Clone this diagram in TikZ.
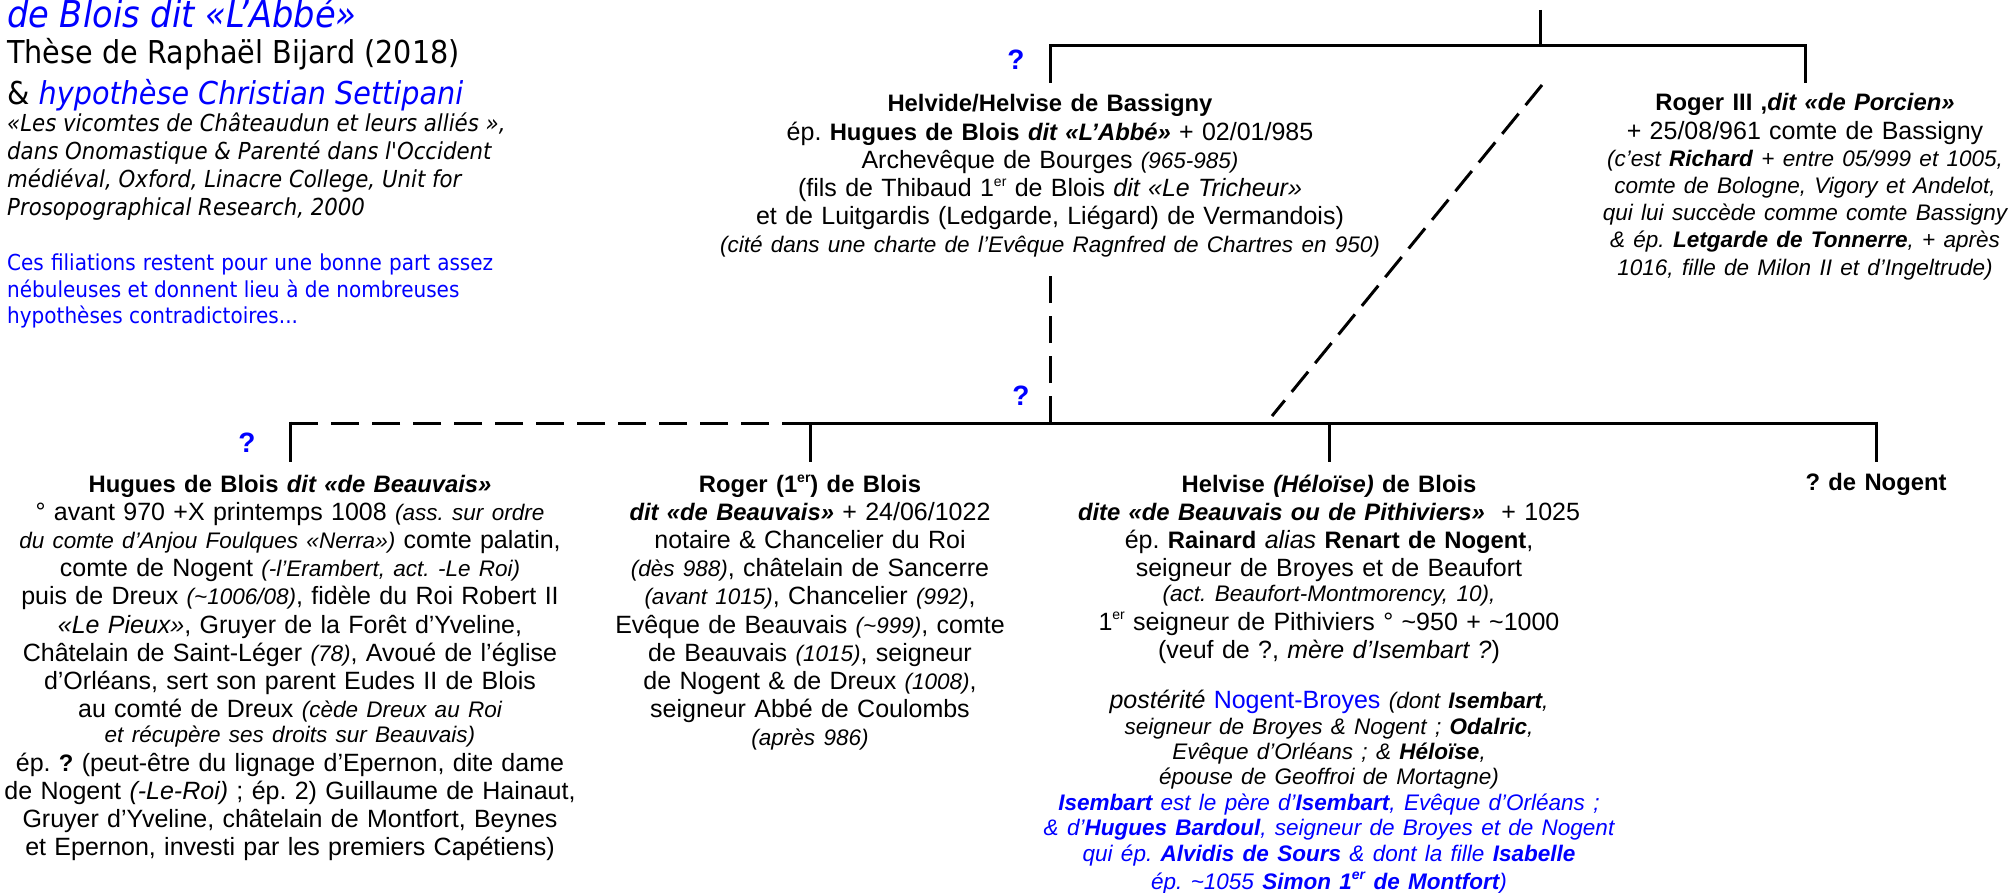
\documentclass[tikz,border=0pt]{standalone}
\usepackage{fontspec}
\setmainfont{Liberation Sans}
\newfontfamily\tah{DejaVu Sans}[FakeStretch=0.91]
\definecolor{qblue}{RGB}{0,0,255}
\newcommand\rsz{\fontsize{25}{28.2}\selectfont}
\newcommand\ssz{\fontsize{22.5}{25.2}\selectfont}
\newcommand\LR{\par\normalfont\rsz}
\newcommand\LS{\par\normalfont\ssz\itshape}
\newcommand\LSw{\par\normalfont\fontsize{22.5}{27}\selectfont\itshape}
\newcommand\LP{\par\normalfont\fontsize{22.5}{25.4}\selectfont\itshape}
\newcommand\sitx[1]{{\ssz\itshape #1}}
\newcommand\bb[1]{{\fontsize{23.8}{28.2}\selectfont\bfseries #1}}
\newcommand\sups[1]{\raisebox{0.42em}{\fontsize{14}{14}\selectfont #1}}
\newcommand\tld{\textasciitilde}
\setlength\parskip{0pt}
\setlength\parindent{0pt}
\lineskiplimit=-100pt
\begin{document}
\frenchspacing
\begin{tikzpicture}[x=1pt,y=-1pt,
  blk/.style={text width=660pt, align=center, anchor=base, inner sep=0pt, font=\rsz},
  hdr/.style={anchor=base west, inner sep=0pt},
  qmark/.style={text=qblue, font=\fontsize{28}{30}\selectfont\bfseries, inner sep=0pt},
  tline/.style={line width=3pt},
  dline/.style={line width=3pt, dash pattern=on 28pt off 13pt},
  vdline/.style={line width=3pt, dash pattern=on 27pt off 13pt},
  ddline/.style={line width=3pt, dash pattern=on 26pt off 11pt}]
\fill[white] (0,0) rectangle (2012,893);
\useasboundingbox (0,0) rectangle (2012,893);

% ---------- header ----------
\node[hdr, text=qblue, font=\tah\itshape\fontsize{37}{40}\selectfont] (title) at (7,28) {de Blois dit «L’Abbé»};
\node[hdr, font=\tah\fontsize{31.5}{36}\selectfont] (these) at (7,64) {Thèse de Raphaël Bijard (2018)};
\node[hdr, font=\tah\fontsize{31.5}{36}\selectfont] (hyp) at (7,105) {\& \textcolor{qblue}{\itshape hypothèse Christian Settipani}};
\node[hdr, font=\tah\itshape\fontsize{23.4}{29}\selectfont] (ref1) at (7,132) {«Les vicomtes de Châteaudun et leurs alliés »,};
\node[hdr, font=\tah\itshape\fontsize{23.4}{29}\selectfont] (ref2) at (7,160) {dans Onomastique \& Parenté dans l'Occident};
\node[hdr, font=\tah\itshape\fontsize{23.4}{29}\selectfont] (ref3) at (7,188) {médiéval, Oxford, Linacre College, Unit for};
\node[hdr, font=\tah\itshape\fontsize{23.4}{29}\selectfont] (ref4) at (7,216) {Prosopographical Research, 2000};
\node[hdr, text=qblue, font=\tah\fontsize{22}{25}\selectfont] (par1) at (7,271) {\makebox[486pt][s]{Ces filiations restent pour une bonne part assez}};
\node[hdr, text=qblue, font=\tah\fontsize{22}{25}\selectfont] (par2) at (7,297) {nébuleuses et donnent lieu à de nombreuses};
\node[hdr, text=qblue, font=\tah\fontsize{22}{25}\selectfont] (par3) at (7,323) {hypothèses contradictoires...};

% ---------- generation 1 ----------
\node[blk] (helvide) at (1050,112) {\rsz\bb{Helvide/Helvise de Bassigny}
\LR ép. \bb{Hugues de Blois \textit{dit «L’Abbé»}} + 02/01/985
\LR Archevêque de Bourges \sitx{(965-985)}
\LR (fils de Thibaud 1\sups{er} de Blois \textit{dit «Le Tricheur»}
\LR et de Luitgardis (Ledgarde, Liégard) de Vermandois)
\LS (cité dans une charte de l’Evêque Ragnfred de Chartres en 950)};

\node[blk] (roger3) at (1805,111) {\rsz\bb{Roger III ,\textit{dit «de Porcien»}}
\LR + 25/08/961 comte de Bassigny
\LSw (c’est \textbf{Richard} + entre 05/999 et 1005,
\LSw comte de Bologne, Vigory et Andelot,
\LSw qui lui succède comme comte Bassigny
\LSw \& ép. \textbf{Letgarde de Tonnerre}, + après
\LSw 1016, fille de Milon II et d’Ingeltrude)};

% ---------- generation 2 ----------
\node[blk] (hugues) at (290,492) {\rsz\bb{Hugues de Blois \textit{dit «de Beauvais»}}
\LR ° avant 970 +X printemps 1008 \sitx{(ass. sur ordre}
\LR \sitx{du comte d’Anjou Foulques «Nerra»)} comte palatin,
\LR comte de Nogent \sitx{(-l’Erambert, act. -Le Roi)}
\LR puis de Dreux \sitx{(\tld1006/08)}, fidèle du Roi Robert II
\LR \textit{«Le Pieux»}, Gruyer de la Forêt d’Yveline,
\LR Châtelain de Saint-Léger \sitx{(78)}, Avoué de l’église
\LR d’Orléans, sert son parent Eudes II de Blois
\LR au comté de Dreux \sitx{(cède Dreux au Roi}
\LS et récupère ses droits sur Beauvais)
\LR ép. \bb{?} (peut-être du lignage d’Epernon, dite dame
\LR de Nogent \textit{(-Le-Roi)} ; ép. 2) Guillaume de Hainaut,
\LR Gruyer d’Yveline, châtelain de Montfort, Beynes
\LR et Epernon, investi par les premiers Capétiens)};

\node[blk] (rogerb) at (810,492) {\rsz\bb{Roger (1\sups{er}) de Blois}
\LR \bb{\textit{dit «de Beauvais»}} + 24/06/1022
\LR notaire \& Chancelier du Roi
\LR \sitx{(dès 988)}, châtelain de Sancerre
\LR \sitx{(avant 1015)}, Chancelier \sitx{(992)},
\LR Evêque de Beauvais \sitx{(\tld999)}, comte
\LR de Beauvais \sitx{(1015)}, seigneur
\LR de Nogent \& de Dreux \sitx{(1008)},
\LR seigneur Abbé de Coulombs
\LS (après 986)};

\node[blk] (helvise) at (1329,492) {\rsz\bb{Helvise \textit{(Héloïse)} de Blois}
\LR \bb{\textit{dite «de Beauvais ou de Pithiviers»}}\ \ + 1025
\LR ép. \bb{Rainard} \textit{alias} \bb{Renart de Nogent},
\LR seigneur de Broyes et de Beaufort
\LS (act. Beaufort-Montmorency, 10),
\LR 1\sups{er} seigneur de Pithiviers ° \tld950 + \tld1000
\LR (veuf de ?, \textit{mère d’Isembart ?})
\par\vspace{25pt}
\LP {\rsz postérité \textcolor{qblue}{\upshape Nogent-Broyes}} (dont \textbf{Isembart},
\LP seigneur de Broyes \& Nogent ; \textbf{Odalric},
\LP Evêque d’Orléans ; \& \textbf{Héloïse},
\LP épouse de Geoffroi de Mortagne)
\LP \color{qblue}\textbf{Isembart} est le père d’\textbf{Isembart}, Evêque d’Orléans ;
\LP \color{qblue}\& d’\textbf{Hugues Bardoul}, seigneur de Broyes et de Nogent
\LP \color{qblue}qui ép. \textbf{Alvidis de Sours} \& dont la fille \textbf{Isabelle}
\LP \color{qblue}ép. \tld1055 \textbf{Simon 1\sups{er} de Montfort})};

\node[blk] (nogent) at (1876,490) {\bb{? de Nogent}};

% ---------- question marks ----------
\node[qmark] (q1) at (1016,60) {?};
\node[qmark] (q2) at (1021,396) {?};
\node[qmark] (q3) at (247,443) {?};

% ---------- connectors ----------
\coordinate (topstub) at (1540,10);
\coordinate (bar1) at (1540,46);
\coordinate (drop1) at (0,83);
\coordinate (bar2) at (0,423);
\coordinate (drop2) at (0,462);
\coordinate (hvbot) at (0,272);
\coordinate (dtop) at (1542,85);
\coordinate (dbot) at (1272,416);

\draw[tline] (topstub) -- (bar1);
\draw[tline, line join=miter] (helvide.north |- drop1) -- (helvide.north |- bar1) -- (roger3.north |- bar1) -- (roger3.north |- drop1);

\draw[vdline] (helvide.south |- bar2) -- (helvide.south |- hvbot);
\draw[ddline] (dtop) -- (dbot);

\draw[tline] (rogerb.north |- bar2) -- ([xshift=1.5pt]nogent.north |- bar2);
\draw[dline] (rogerb.north |- bar2) -- (hugues.north |- bar2);
\draw[tline] ([yshift=1.5pt]hugues.north |- bar2) -- (hugues.north |- drop2);
\draw[tline] (rogerb.north |- bar2) -- (rogerb.north |- drop2);
\draw[tline] (helvise.north |- bar2) -- (helvise.north |- drop2);
\draw[tline] ([yshift=1.5pt]nogent.north |- bar2) -- (nogent.north |- drop2);
\end{tikzpicture}
\end{document}
